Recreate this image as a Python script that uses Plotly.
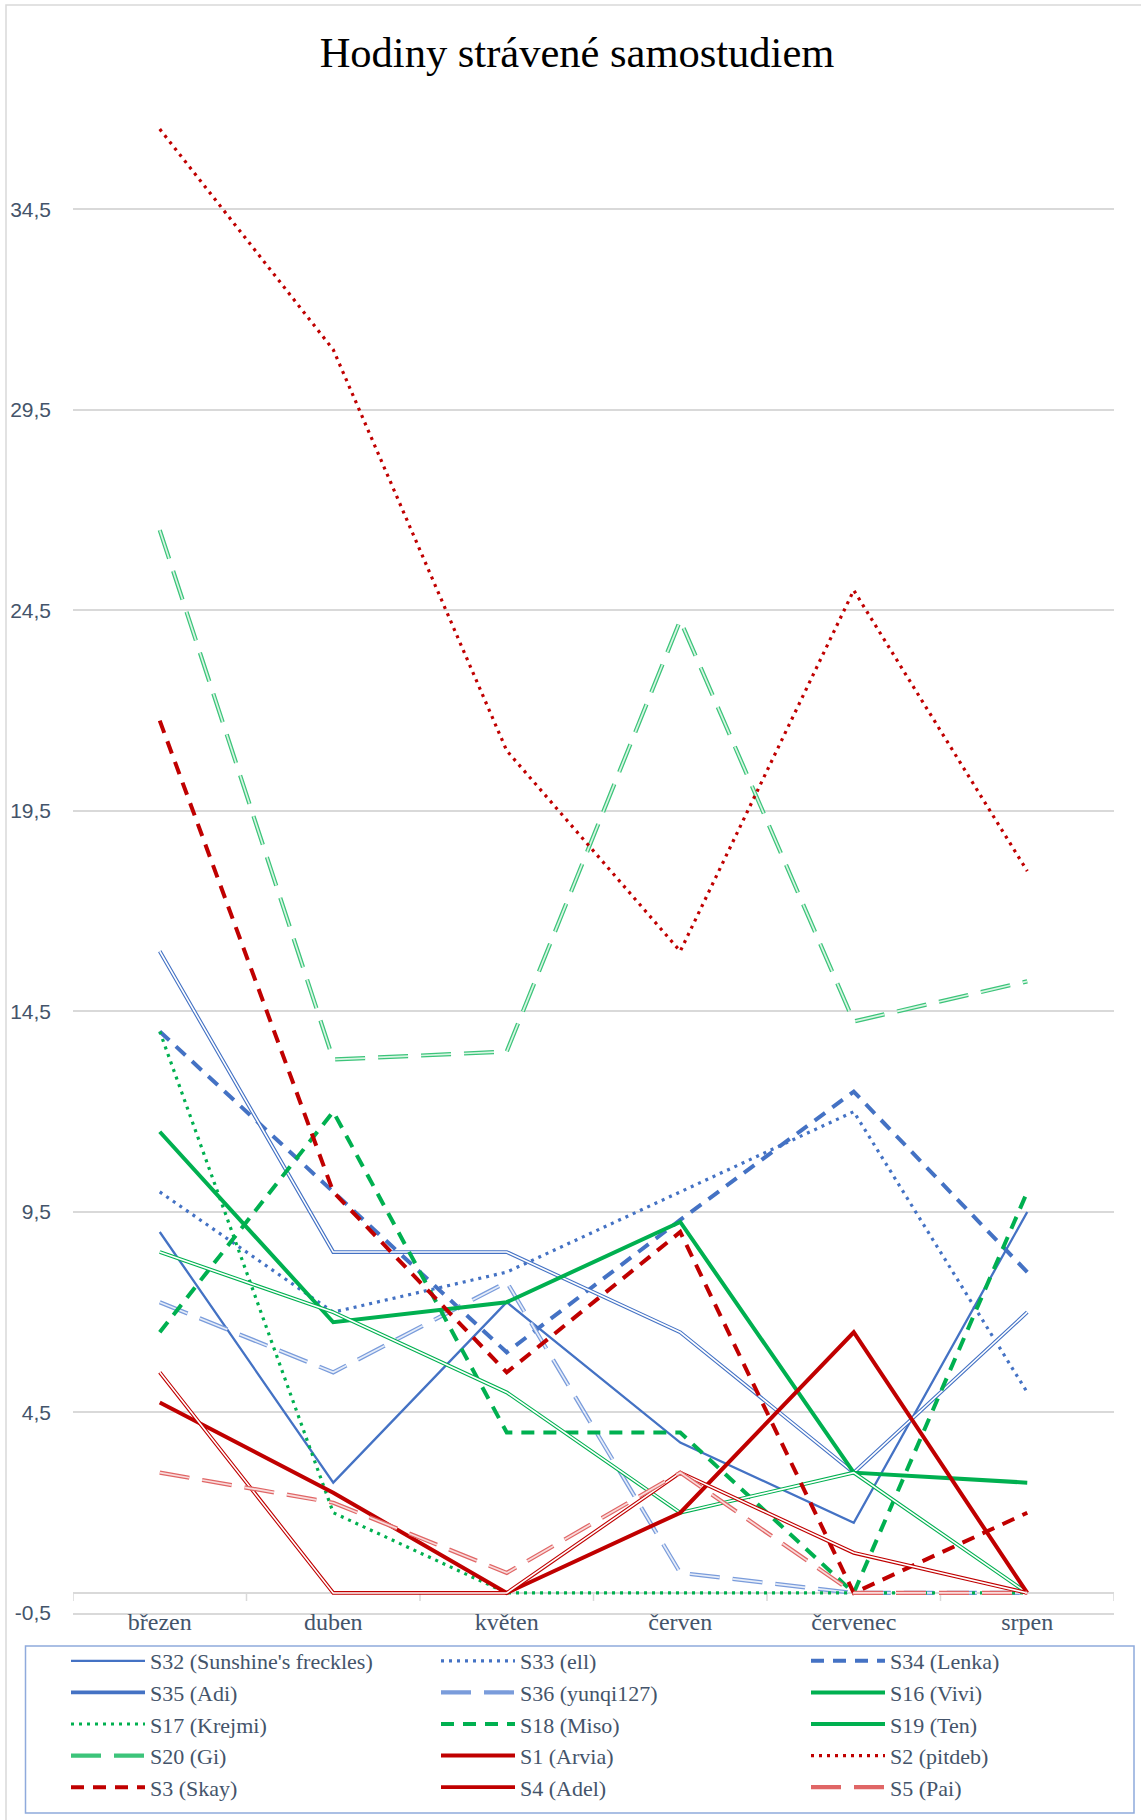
import plotly.graph_objects as go

# ---------------- data ----------------
CATEGORIES = ["březen", "duben", "květen", "červen", "červenec", "srpen"]

S32 = [9.0, 2.75, 7.25, 3.75, 1.75, 9.5]
S33 = [10.0, 7.0, 8.0, 10.0, 12.0, 5.0]
S34 = [14.0, 10.0, 6.0, 9.3, 12.5, 8.0]
S35 = [16.0, 8.5, 8.5, 6.5, 3.0, 7.0]
S36 = [7.25, 5.5, 7.75, 0.5, 0.0, 0.0]
S16 = [11.5, 6.75, 7.25, 9.25, 3.0, 2.75]
S17 = [14.0, 2.0, 0.0, 0.0, 0.0, 0.0]
S18 = [6.5, 12.0, 4.0, 4.0, 0.0, 10.0]
S19 = [8.5, 7.0, 5.0, 2.0, 3.0, 0.0]
S20 = [26.5, 13.3, 13.5, 24.25, 14.25, 15.25]
S1 = [4.75, 2.5, 0.0, 2.0, 6.5, 0.0]
S2 = [36.5, 31.0, 21.0, 16.0, 25.0, 18.0]
S3 = [21.75, 10.0, 5.5, 9.0, 0.0, 2.0]
S4 = [5.5, 0.0, 0.0, 3.0, 1.0, 0.0]
S5 = [3.0, 2.25, 0.5, 3.0, 0.0, 0.0]

SERIES_NAMES = [
    "S32 (Sunshine's freckles)", "S33 (ell)", "S34 (Lenka)",
    "S35 (Adi)", "S36 (yunqi127)", "S16 (Vivi)",
    "S17 (Krejmi)", "S18 (Miso)", "S19 (Ten)",
    "S20 (Gi)", "S1 (Arvia)", "S2 (pitdeb)",
    "S3 (Skay)", "S4 (Adel)", "S5 (Pai)",
]
SERIES_VALUES = [S32, S33, S34, S35, S36, S16, S17, S18, S19, S20, S1, S2, S3, S4, S5]

Y_TICK_VALUES = [-0.5, 4.5, 9.5, 14.5, 19.5, 24.5, 29.5, 34.5]
Y_TICK_LABELS = ["-0,5", "4,5", "9,5", "14,5", "19,5", "24,5", "29,5", "34,5"]

TITLE = "Hodiny strávené samostudiem"

# ---------------- styles ----------------
BLUE = "#4472C4"
GREEN = "#00B050"
RED = "#C00000"

DOT = "3px,5px"
DASH = "13px,9px"
LONG = "30px,13px"

# (color, width, dash, inner_color or None, inner_width)
STYLES = [
    (BLUE, 2.3, "solid", None, 0),
    (BLUE, 3.2, DOT, None, 0),
    (BLUE, 4.0, DASH, None, 0),
    (BLUE, 3.8, "solid", "white", 1.6),
    ("#7A9CDB", 4.2, LONG, "#E6EDF9", 1.7),
    (GREEN, 4.0, "solid", None, 0),
    (GREEN, 3.2, DOT, None, 0),
    (GREEN, 4.0, DASH, None, 0),
    (GREEN, 3.8, "solid", "white", 1.6),
    ("#3CC47A", 4.2, LONG, "#D8F5E3", 1.7),
    (RED, 4.0, "solid", None, 0),
    (RED, 3.2, DOT, None, 0),
    (RED, 4.0, DASH, None, 0),
    (RED, 3.8, "solid", "white", 1.6),
    ("#E06666", 4.2, LONG, "#F9DCDC", 1.7),
]

TEXT_COLOR = "#44546A"
GRID = "#D9D9D9"
SERIF = "Liberation Serif, Times New Roman, serif"
SANS = "Liberation Sans, Arial, sans-serif"

W, H = 1141, 1820
M_L, M_R, M_T, M_B = 73, 27, 101, 207
PW = W - M_L - M_R
PH = H - M_T - M_B


def px_x(px):
    return (px - M_L) / PW


def px_y(py):
    return (H - M_B - py) / PH


fig = go.Figure()

for name, vals, st in zip(SERIES_NAMES, SERIES_VALUES, STYLES):
    color, width, dash, inner, iw = st
    fig.add_trace(go.Scatter(
        x=CATEGORIES, y=vals, mode="lines", name=name,
        line=dict(color=color, width=width, dash=dash),
        hoverinfo="x+y+name",
    ))
    if inner:
        fig.add_trace(go.Scatter(
            x=CATEGORIES, y=vals, mode="lines", name=name,
            line=dict(color=inner, width=iw, dash=dash),
            showlegend=False, hoverinfo="skip",
        ))

shapes = []
# category-boundary tick marks on the horizontal axis (at y = 0)
for i in range(len(CATEGORIES) + 1):
    shapes.append(dict(type="line", xref="x", yref="y",
                       x0=i - 0.5, x1=i - 0.5, y0=0, y1=-0.2,
                       line=dict(color=GRID, width=1.5), layer="below"))
# chart-area border
shapes.append(dict(type="rect", xref="paper", yref="paper",
                   x0=px_x(6), x1=px_x(W + 10), y0=px_y(H + 10), y1=px_y(5),
                   line=dict(color="#D9D9D9", width=1.5), layer="below"))
# legend frame
shapes.append(dict(type="rect", xref="paper", yref="paper",
                   x0=px_x(25.5), x1=px_x(1134), y0=px_y(1813), y1=px_y(1646),
                   line=dict(color="#8FAADC", width=1.5), layer="below"))

fig.update_layout(
    width=W, height=H,
    margin=dict(l=M_L, r=M_R, t=M_T, b=M_B, autoexpand=False),
    paper_bgcolor="white", plot_bgcolor="white",
    title=dict(text=TITLE, x=577 / W, xref="container", xanchor="center",
               y=1 - 52 / H, yref="container", yanchor="middle",
               font=dict(family=SERIF, size=42.5, color="black")),
    xaxis=dict(
        type="category", range=[-0.5, len(CATEGORIES) - 0.5],
        showgrid=False, zeroline=False, showline=True, linecolor=GRID, linewidth=1.5,
        ticks="", tickfont=dict(family=SERIF, size=24, color=TEXT_COLOR),
        ticklabelstandoff=-14,
    ),
    yaxis=dict(
        range=[-0.5, 37.2], tickmode="array",
        tickvals=Y_TICK_VALUES, ticktext=Y_TICK_LABELS,
        showgrid=True, gridcolor=GRID, gridwidth=1.5,
        zeroline=True, zerolinecolor=GRID, zerolinewidth=1.5,
        showline=False, ticks="",
        tickfont=dict(family=SANS, size=21, color=TEXT_COLOR),
        ticklabelstandoff=21,
    ),
    legend=dict(
        orientation="h", xref="paper", yref="paper",
        x=px_x(66), y=px_y(1640), xanchor="left", yanchor="top",
        entrywidth=281, entrywidthmode="pixels",
        borderwidth=0, bgcolor="rgba(0,0,0,0)",
        font=dict(family=SERIF, size=22, color=TEXT_COLOR),
        itemwidth=74, traceorder="normal",
    ),
    shapes=shapes,
    showlegend=True,
)

fig.write_html("out.html", config={"displayModeBar": False},
               post_script="document.body.style.margin='0';")
